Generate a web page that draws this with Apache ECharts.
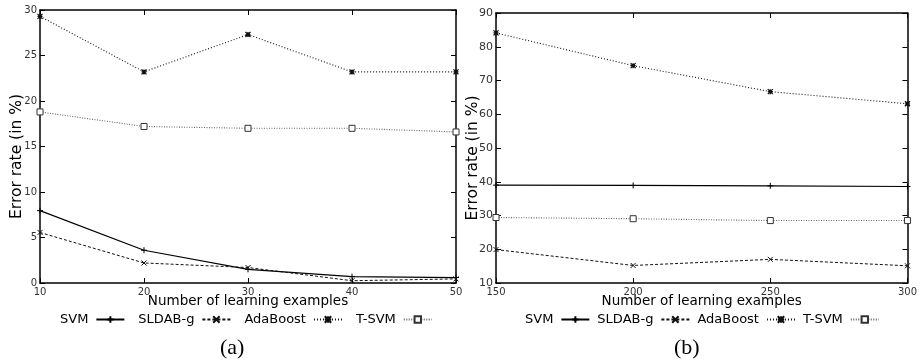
<!DOCTYPE html>
<html><head><meta charset="utf-8">
<script src="https://cdn.jsdelivr.net/npm/echarts@6/dist/echarts.min.js"></script>
<style>html,body{margin:0;padding:0;background:#fff}#c{width:920px;height:361px}</style>
</head><body><div id="c"></div>
<script>
// Panel (a)
const xA = [10, 20, 30, 40, 50];
const svmA = [7.95, 3.6, 1.5, 0.7, 0.6];
const sldabA = [5.55, 2.2, 1.7, 0.25, 0.45];
const adaA = [29.3, 23.2, 27.3, 23.2, 23.2];
const tsvmA = [18.8, 17.2, 17.0, 17.0, 16.6];
// Panel (b)
const xB = [150, 200, 250, 300];
const svmB = [39.0, 38.9, 38.8, 38.6];
const sldabB = [19.9, 15.2, 17.0, 15.1];
const adaB = [84.1, 74.4, 66.7, 63.1];
const tsvmB = [29.4, 29.05, 28.5, 28.5];

const names = ['SVM', 'SLDAB-g', 'AdaBoost', 'T-SVM'];
const FONT = 'DejaVu Sans';

const styles = {
  'SVM': {line: {color: '#000', width: 1.2, type: 'solid'}, symbol: 'path://M0,4L8,4M4,0L4,8', size: 6, item: {color: '#000', borderColor: '#000', borderWidth: 1}},
  'SLDAB-g': {line: {color: '#111', width: 1, type: [3, 2]}, symbol: 'path://M0,0L8,8M0,8L8,0', size: 5, item: {color: '#111', borderColor: '#111', borderWidth: 1}},
  'AdaBoost': {line: {color: '#111', width: 1.1, type: [1, 2]}, symbol: 'path://M0,0L8,8M0,8L8,0M0,4L8,4M4,0L4,8', size: 5, item: {color: '#111', borderColor: '#111', borderWidth: 1.3}},
  'T-SVM': {line: {color: '#666', width: 1.1, type: [1, 1.5]}, symbol: 'rect', size: 6, item: {color: '#fff', borderColor: '#333', borderWidth: 1}}
};

function mk(name, xs, ys, idx) {
  const s = styles[name];
  return {
    name, type: 'line', xAxisIndex: idx * 2, yAxisIndex: idx * 2,
    data: xs.map((x, i) => [x, ys[i]]),
    symbol: s.symbol, symbolSize: s.size, showSymbol: true,
    lineStyle: s.line, itemStyle: s.item, color: s.line.color,
    animation: false, silent: true, z: 3
  };
}

function xAxes(grid, min, max, interval, labelSize) {
  const base = {type: 'value', gridIndex: grid, min, max, interval,
    splitLine: {show: false},
    axisLine: {show: true, onZero: false, lineStyle: {color: '#000', width: 1.5}},
    axisTick: {show: true, inside: true, length: 5, lineStyle: {color: '#000', width: 1}}};
  return [
    Object.assign({}, base, {position: 'bottom',
      axisLabel: {show: true, fontFamily: FONT, fontSize: labelSize, color: '#333', margin: 4},
      name: 'Number of learning examples', nameLocation: 'middle', nameGap: 11, nameMoveOverlap: false,
      nameTextStyle: {fontFamily: FONT, fontSize: 13.5, color: '#000', verticalAlign: 'top'}}),
    Object.assign({}, base, {position: 'top', axisLabel: {show: false}})
  ];
}
function yAxes(grid, min, max, interval, labelSize, gap) {
  const base = {type: 'value', gridIndex: grid, min, max, interval,
    splitLine: {show: false},
    axisLine: {show: true, onZero: false, lineStyle: {color: '#000', width: 1.5}},
    axisTick: {show: true, inside: true, length: 5, lineStyle: {color: '#000', width: 1}}};
  return [
    Object.assign({}, base, {position: 'left',
      axisLabel: {show: true, fontFamily: FONT, fontSize: labelSize, color: '#333', margin: 3},
      name: 'Error rate (in %)', nameLocation: 'middle', nameGap: gap, nameRotate: 90, nameMoveOverlap: false,
      nameTextStyle: {fontFamily: FONT, fontSize: 15.5, color: '#000', padding: [0, 20, 0, 0]}}),
    Object.assign({}, base, {position: 'right', axisLabel: {show: false}})
  ];
}

function legend(left, gap) {
  return {
    data: names, left, top: 308, orient: 'horizontal', align: 'right',
    itemWidth: 28, itemHeight: 8, itemGap: gap,
    textStyle: {fontFamily: FONT, fontSize: 13, color: '#000', padding: [0, 3, 0, 0]},
    selectedMode: false
  };
}

const chart = echarts.init(document.getElementById('c'), null, {renderer: 'canvas'});
chart.setOption({
  animation: false,
  backgroundColor: '#fff',
  grid: [
    {left: 40, top: 10, width: 416, height: 273},
    {left: 496, top: 13, width: 412, height: 270}
  ],
  xAxis: [...xAxes(0, 10, 50, 10, 10), ...xAxes(1, 150, 300, 50, 10)],
  yAxis: [...yAxes(0, 0, 30, 5, 10, 15), ...yAxes(1, 10, 90, 10, 11, 15)],
  legend: [legend(55, 13), legend(520, 7)],
  title: [
    {text: '(a)', left: 215, top: 332, textStyle: {fontFamily: 'Liberation Serif', fontSize: 22, fontWeight: 'normal', color: '#000'}},
    {text: '(b)', left: 669, top: 332, textStyle: {fontFamily: 'Liberation Serif', fontSize: 22, fontWeight: 'normal', color: '#000'}}
  ],
  series: [
    mk('SVM', xA, svmA, 0), mk('SLDAB-g', xA, sldabA, 0), mk('AdaBoost', xA, adaA, 0), mk('T-SVM', xA, tsvmA, 0),
    mk('SVM', xB, svmB, 1), mk('SLDAB-g', xB, sldabB, 1), mk('AdaBoost', xB, adaB, 1), mk('T-SVM', xB, tsvmB, 1)
  ]
});
</script></body></html>
